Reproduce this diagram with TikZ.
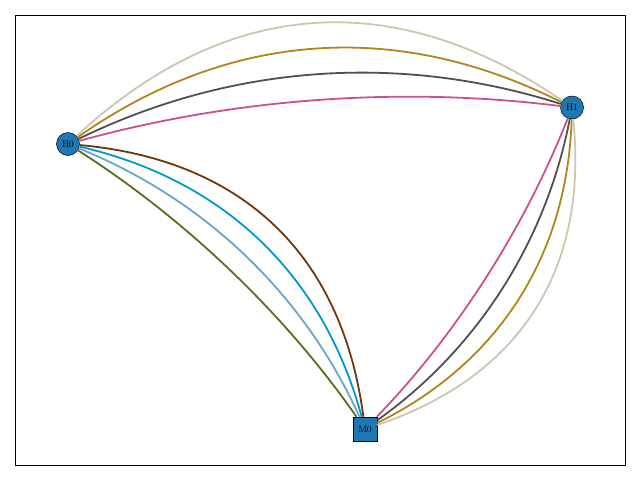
\documentclass[tikz,border=0pt]{standalone}
\usetikzlibrary{calc}
\definecolor{nodeblue}{RGB}{31,119,180}
\definecolor{beigec}{RGB}{200,200,176}
\definecolor{goldc}{RGB}{176,134,24}
\definecolor{grayc}{RGB}{80,80,80}
\definecolor{pinkc}{RGB}{204,80,144}
\definecolor{brownc}{RGB}{108,56,16}
\definecolor{cyanc}{RGB}{0,153,204}
\definecolor{lblue}{RGB}{108,164,200}
\definecolor{greenc}{RGB}{84,112,32}
\begin{document}
\begin{tikzpicture}[x=1pt,y=-1pt,font=\fontsize{9.5}{9.5}\selectfont,
  host/.style={circle,draw=black,line width=0.5pt,fill=nodeblue,minimum size=23pt,inner sep=0pt},
  machine/.style={rectangle,draw=black,line width=0.5pt,fill=nodeblue,minimum size=24pt,inner sep=0pt},
  edge/.style={line width=1.8pt}]
\useasboundingbox (0,0) rectangle (640,480);
\draw[line width=0.8pt] (15,15) rectangle (625,465);
\node[host] (H0) at (68,144) {H0};
\node[host] (H1) at (572,107.5) {H1};
\node[machine] (M0) at (365,429) {M0};
% arcs, bend grows with rad
\foreach \src/\dst/\ca/\cb/\cc/\cd in {H0/H1/pinkc/grayc/goldc/beigec,
    H0/M0/greenc/lblue/cyanc/brownc, H1/M0/pinkc/grayc/goldc/beigec} {
  \foreach \r/\col in {0.1/\ca,0.2/\cb,0.3/\cc,0.4/\cd} {
    \coordinate (ctl) at ($(\src)!0.5!(\dst)!2*\r!90:(\dst)$);
    \draw[edge,\col] (\src) .. controls ($(\src)!2/3!(ctl)$) and ($(\dst)!2/3!(ctl)$) .. (\dst);
  }
}
\end{tikzpicture}
\end{document}
